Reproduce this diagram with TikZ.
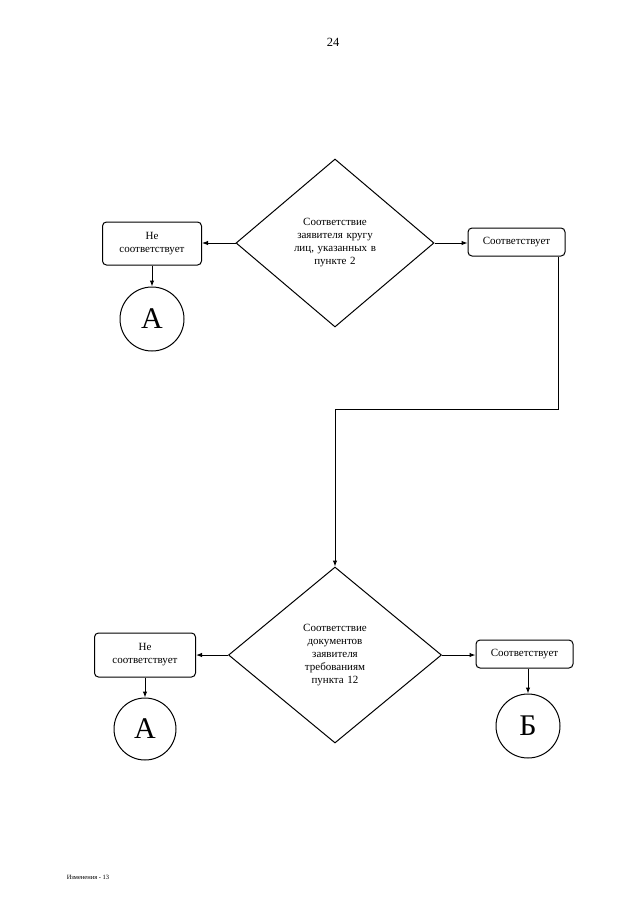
\documentclass[tikz,border=0pt]{standalone}
\usepackage{fontspec}
\setmainfont{Liberation Serif}
\usetikzlibrary{shapes.geometric,arrows.meta}
\begin{document}
\begin{tikzpicture}[x=1pt,y=-1pt,
  every node/.style={font=\fontsize{11}{13}\selectfont, align=center},
  cond/.style={draw, line width=1pt, diamond, inner sep=0pt, text width=84pt},
  box/.style={draw, line width=1pt, rounded corners=4pt, inner sep=1pt},
  conn/.style={draw, line width=1pt, circle, inner sep=0pt, font=\fontsize{30}{32}\selectfont},
  arr/.style={line width=1pt, -{Latex[length=6pt,width=4.5pt]}},
  ln/.style={line width=1pt}]
\useasboundingbox (0,0) rectangle (640,905);
\fill[white] (0,0) rectangle (640,905);

\node[font=\fontsize{12.5}{14}\selectfont] (pg) at (333,42) {24};
\node[font=\fontsize{6.5}{8}\selectfont] (ft) at (88,877) {Изменения - 13};

% first decision
\node[cond, minimum width=198pt, minimum height=168pt] (d1) at (335,243)
  {Соответствие\\заявителя кругу\\лиц, указанных в\\пункте 2};
\node[box, minimum width=99pt, minimum height=43pt] (n1) at (152,243.5) {Не\\соответствует};
\node[box, minimum width=97pt, minimum height=28pt] (y1) at (516.5,242) {Соответствует};
\node[conn, minimum size=64pt] (a1) at (152,319) {А};

\draw[arr] (d1.west) -- (d1.west -| n1.east);
\draw[arr] (d1.east) -- (d1.east -| y1.west);
\draw[arr] (n1.south) -- (a1.north);

\coordinate (k1) at (558,409);
\coordinate (k2) at (335,409);

% second decision
\node[cond, minimum width=213pt, minimum height=176pt] (d2) at (335,655)
  {Соответствие\\документов\\заявителя\\требованиям\\пункта 12};
\node[box, minimum width=101pt, minimum height=44pt] (n2) at (145,655) {Не\\соответствует};
\node[box, minimum width=97pt, minimum height=28pt] (y2) at (524.5,654) {Соответствует};
\node[conn, minimum size=62pt] (a2) at (145,729) {А};
\node[conn, minimum size=64pt] (b2) at (528,726) {Б};

\draw[ln] (y1.south -| k1) -- (k1) -- (k2);
\draw[arr] (k2) -- (d2.north);
\draw[arr] (d2.west) -- (d2.west -| n2.east);
\draw[arr] (d2.east) -- (d2.east -| y2.west);
\draw[arr] (n2.south) -- (a2.north);
\draw[arr] (y2.south -| b2.north) -- (b2.north);
\end{tikzpicture}
\end{document}
